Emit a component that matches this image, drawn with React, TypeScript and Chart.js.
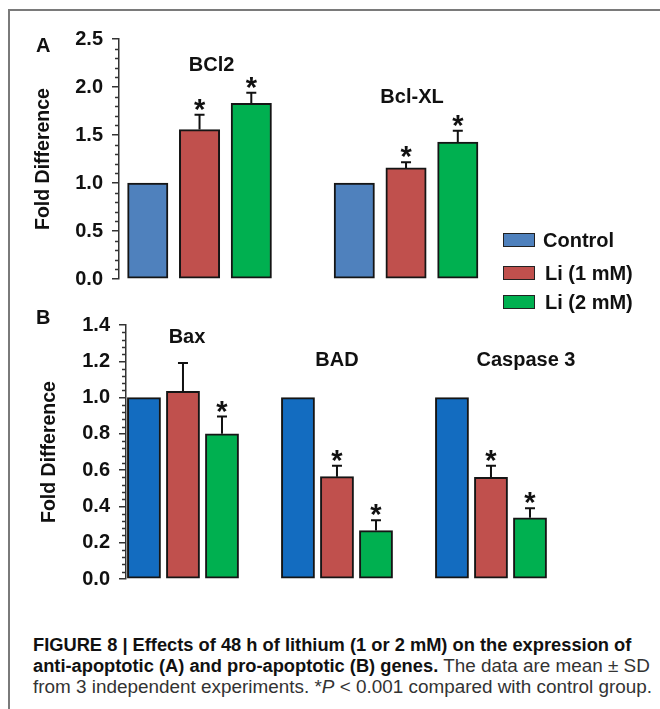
import React, { useEffect, useRef } from 'react';
import { Chart, registerables } from 'chart.js';

Chart.register(...registerables);

// ---------- data ----------
const seriesNames = ['Control', 'Li (1 mM)', 'Li (2 mM)'];

const genesA = ['BCl2', 'Bcl-XL'];
const controlA = [1.0, 1.0];
const li1A = [1.556, 1.157];
const li2A = [1.83, 1.427];
const controlSdA = [0, 0];
const li1SdA = [0.155, 0.058];
const li2SdA = [0.11, 0.118];
const controlSigA = [false, false];
const li1SigA = [true, true];
const li2SigA = [true, true];
const yTicksA = { min: 0, max: 2.5, major: 0.5, minor: 0.1 };

const genesB = ['Bax', 'BAD', 'Caspase 3'];
const controlB = [1.0, 1.0, 1.0];
const li1B = [1.035, 0.564, 0.56];
const li2B = [0.80, 0.267, 0.337];
const controlSdB = [0, 0, 0];
const li1SdB = [0.155, 0.06, 0.064];
const li2SdB = [0.095, 0.057, 0.053];
const controlSigB = [false, false, false];
const li1SigB = [false, true, true];
const li2SigB = [true, true, true];
const yTicksB = { min: 0, max: 1.4, major: 0.2, minor: 0.04 };

const colorsA = ['#4f81bd', '#c0504d', '#00b050'];
const colorsB = ['#136cc0', '#c0504d', '#00b050'];

const FONT = '"Liberation Sans", Arial, Helvetica, sans-serif';

// ---------- plugin: error bars, asterisks, group titles, minor ticks ----------
const decorPlugin = {
  id: 'decor',
  afterDatasetsDraw(chart: any, _args: any, opts: any) {
    const { ctx, chartArea } = chart;
    const y = chart.scales.y;
    const x = chart.scales.x;
    ctx.save();
    // minor ticks
    ctx.strokeStyle = '#333';
    ctx.lineWidth = 1.5;
    const x0 = chartArea.left;
    for (let k = 0; ; k++) {
      const v = k * opts.minor;
      if (v > opts.max + 1e-9) break;
      const r = v / opts.major;
      if (Math.abs(r - Math.round(r)) < 1e-6) continue;
      const py = Math.round(y.getPixelForValue(v)) + 0.5;
      ctx.beginPath();
      ctx.moveTo(x0 - 4, py);
      ctx.lineTo(x0, py);
      ctx.stroke();
    }
    // error bars + significance
    chart.data.datasets.forEach((ds: any, di: number) => {
      const meta = chart.getDatasetMeta(di);
      meta.data.forEach((bar: any, i: number) => {
        const v = ds.data[i].y;
        const sd = opts.sd[di][i];
        let top = bar.y;
        if (sd > 0) {
          const ey = y.getPixelForValue(v + sd);
          ctx.strokeStyle = '#111';
          ctx.lineWidth = 2;
          ctx.beginPath();
          ctx.moveTo(bar.x, bar.y);
          ctx.lineTo(bar.x, ey);
          ctx.moveTo(bar.x - 5, ey);
          ctx.lineTo(bar.x + 5, ey);
          ctx.stroke();
          top = ey;
        }
        if (opts.sig[di][i]) {
          ctx.fillStyle = '#111';
          ctx.font = `bold 29px ${FONT}`;
          ctx.textAlign = 'center';
          ctx.textBaseline = 'alphabetic';
          const m = ctx.measureText('*');
          const c = top - 10;
          const base = c + (m.actualBoundingBoxAscent - m.actualBoundingBoxDescent) / 2;
          ctx.fillText('*', bar.x, base);
        }
      });
    });
    // group titles
    ctx.fillStyle = '#111';
    ctx.font = `bold 20px ${FONT}`;
    ctx.textAlign = 'center';
    ctx.textBaseline = 'middle';
    opts.titles.forEach((t: string, i: number) => {
      const px = x.getPixelForValue(i + 1) + opts.titleDx[i];
      ctx.fillText(t, px, opts.titleY[i]);
    });
    ctx.restore();
  },
};

function makeConfig(p: any) {
  const datasets = p.series.map((vals: number[], si: number) => ({
    label: seriesNames[si],
    data: vals.map((v, i) => ({ x: i + 1, y: v })),
    backgroundColor: p.colors[si],
    borderColor: '#151515',
    borderWidth: 2,
    borderSkipped: false,
    categoryPercentage: p.catPct,
    barPercentage: p.barPct,
    barThickness: 'flex',
  }));
  return {
    type: 'bar',
    data: { datasets },
    plugins: [decorPlugin],
    options: {
      responsive: false,
      animation: false,
      events: [],
      layout: { padding: p.padding },
      plugins: {
        legend: { display: false },
        tooltip: { enabled: false },
        decor: {
          sd: p.sd,
          sig: p.sig,
          titles: p.titles,
          titleDx: p.titleDx,
          titleY: p.titleY,
          min: p.ticks.min,
          max: p.ticks.max,
          major: p.ticks.major,
          minor: p.ticks.minor,
        },
      },
      scales: {
        x: {
          type: 'linear',
          display: false,
          offset: false,
          grid: { offset: false },
          min: p.xMin,
          max: p.xMax,
        },
        y: {
          min: p.ticks.min,
          max: p.ticks.max,
          afterFit: (s: any) => {
            s.width = p.axisWidth;
          },
          border: { display: true, color: '#333', width: 1.5 },
          grid: {
            drawOnChartArea: false,
            drawTicks: true,
            tickLength: 7,
            color: '#333',
            lineWidth: 1.5,
          },
          ticks: {
            stepSize: p.ticks.major,
            padding: 9,
            color: '#111',
            font: { family: FONT, size: 20, weight: 'bold' },
            callback: (v: number) => Number(v).toFixed(1),
          },
          title: {
            display: true,
            text: 'Fold Difference',
            color: '#111',
            font: { family: FONT, size: 19.5, weight: 'bold' },
            padding: { top: 0, bottom: 0 },
          },
        },
      },
    },
  };
}

function Panel(props: { cfg: any; top: number; height: number }) {
  const ref = useRef<HTMLCanvasElement>(null);
  useEffect(() => {
    const chart = new Chart(ref.current as HTMLCanvasElement, makeConfig(props.cfg) as any);
    return () => chart.destroy();
  }, []);
  return (
    <canvas
      ref={ref}
      width={660}
      height={props.height}
      style={{ position: 'absolute', left: 0, top: props.top, width: 660, height: props.height }}
    />
  );
}

const cfgA = {
  series: [controlA, li1A, li2A],
  sd: [controlSdA, li1SdA, li2SdA],
  sig: [controlSigA, li1SigA, li2SigA],
  colors: colorsA,
  titles: genesA,
  titleDx: [12, 6],
  titleY: [65, 97],
  ticks: yTicksA,
  xMin: 0.61,
  xMax: 3.01,
  axisWidth: 87,
  padding: { left: 32, right: 45.4, top: 39, bottom: 14 },
  catPct: 0.752,
  barPct: 0.78,
};

const cfgB = {
  series: [controlB, li1B, li2B],
  sd: [controlSdB, li1SdB, li2SdB],
  sig: [controlSigB, li1SigB, li2SigB],
  colors: colorsB,
  titles: genesB,
  titleDx: [4, 0, 35],
  titleY: [37, 60, 60],
  ticks: yTicksB,
  xMin: 0.63,
  xMax: 3.63,
  axisWidth: 88,
  padding: { left: 38, right: 72, top: 25, bottom: 18.3 },
  catPct: 0.76,
  barPct: 0.85,
};

const legendRows = [
  { top: 233, textLeft: 543 },
  { top: 266, textLeft: 545 },
  { top: 295, textLeft: 545 },
];

export default function App() {
  return (
    <div
      style={{
        position: 'absolute',
        left: 0,
        top: 0,
        width: 660,
        height: 709,
        background: '#fff',
        overflow: 'hidden',
        fontFamily: FONT,
      }}
    >
      <div
        style={{
          position: 'absolute',
          left: 8,
          top: 9,
          right: -4,
          bottom: -4,
          borderTop: '2px solid #7a7a7a',
          borderLeft: '2px solid #7a7a7a',
        }}
      />
      <Panel cfg={cfgA} top={0} height={300} />
      <Panel cfg={cfgB} top={300} height={300} />
      <div style={{ position: 'absolute', left: 36, top: 34, fontSize: 20, fontWeight: 'bold', color: '#111' }}>A</div>
      <div style={{ position: 'absolute', left: 36, top: 306, fontSize: 20, fontWeight: 'bold', color: '#111' }}>B</div>
      {seriesNames.map((n, i) => (
        <React.Fragment key={n}>
          <div
            style={{
              position: 'absolute',
              left: 503,
              top: legendRows[i].top,
              width: 30,
              height: 12,
              background: colorsA[i],
              border: '1.5px solid #222',
            }}
          />
          <div
            style={{
              position: 'absolute',
              left: legendRows[i].textLeft,
              top: legendRows[i].top - 5,
              fontSize: 20,
              fontWeight: 'bold',
              color: '#111',
              whiteSpace: 'nowrap',
              lineHeight: '24px',
            }}
          >
            {n}
          </div>
        </React.Fragment>
      ))}
      <div
        style={{
          position: 'absolute',
          left: 33,
          top: 633.5,
          lineHeight: '21px',
          color: '#333',
          whiteSpace: 'nowrap',
          fontSize: 18.9,
        }}
      >
        <div>
          <b style={{ color: '#111', fontSize: 18.3 }}>
            FIGURE 8 | Effects of 48 h of lithium (1 or 2 mM) on the expression of
          </b>
        </div>
        <div>
          <b style={{ color: '#111', fontSize: 18.3 }}>anti-apoptotic (A) and pro-apoptotic (B) genes.</b> The data are
          mean ± SD
        </div>
        <div>
          from 3 independent experiments. *<i>P</i> &lt; 0.001 compared with control group.
        </div>
      </div>
    </div>
  );
}
